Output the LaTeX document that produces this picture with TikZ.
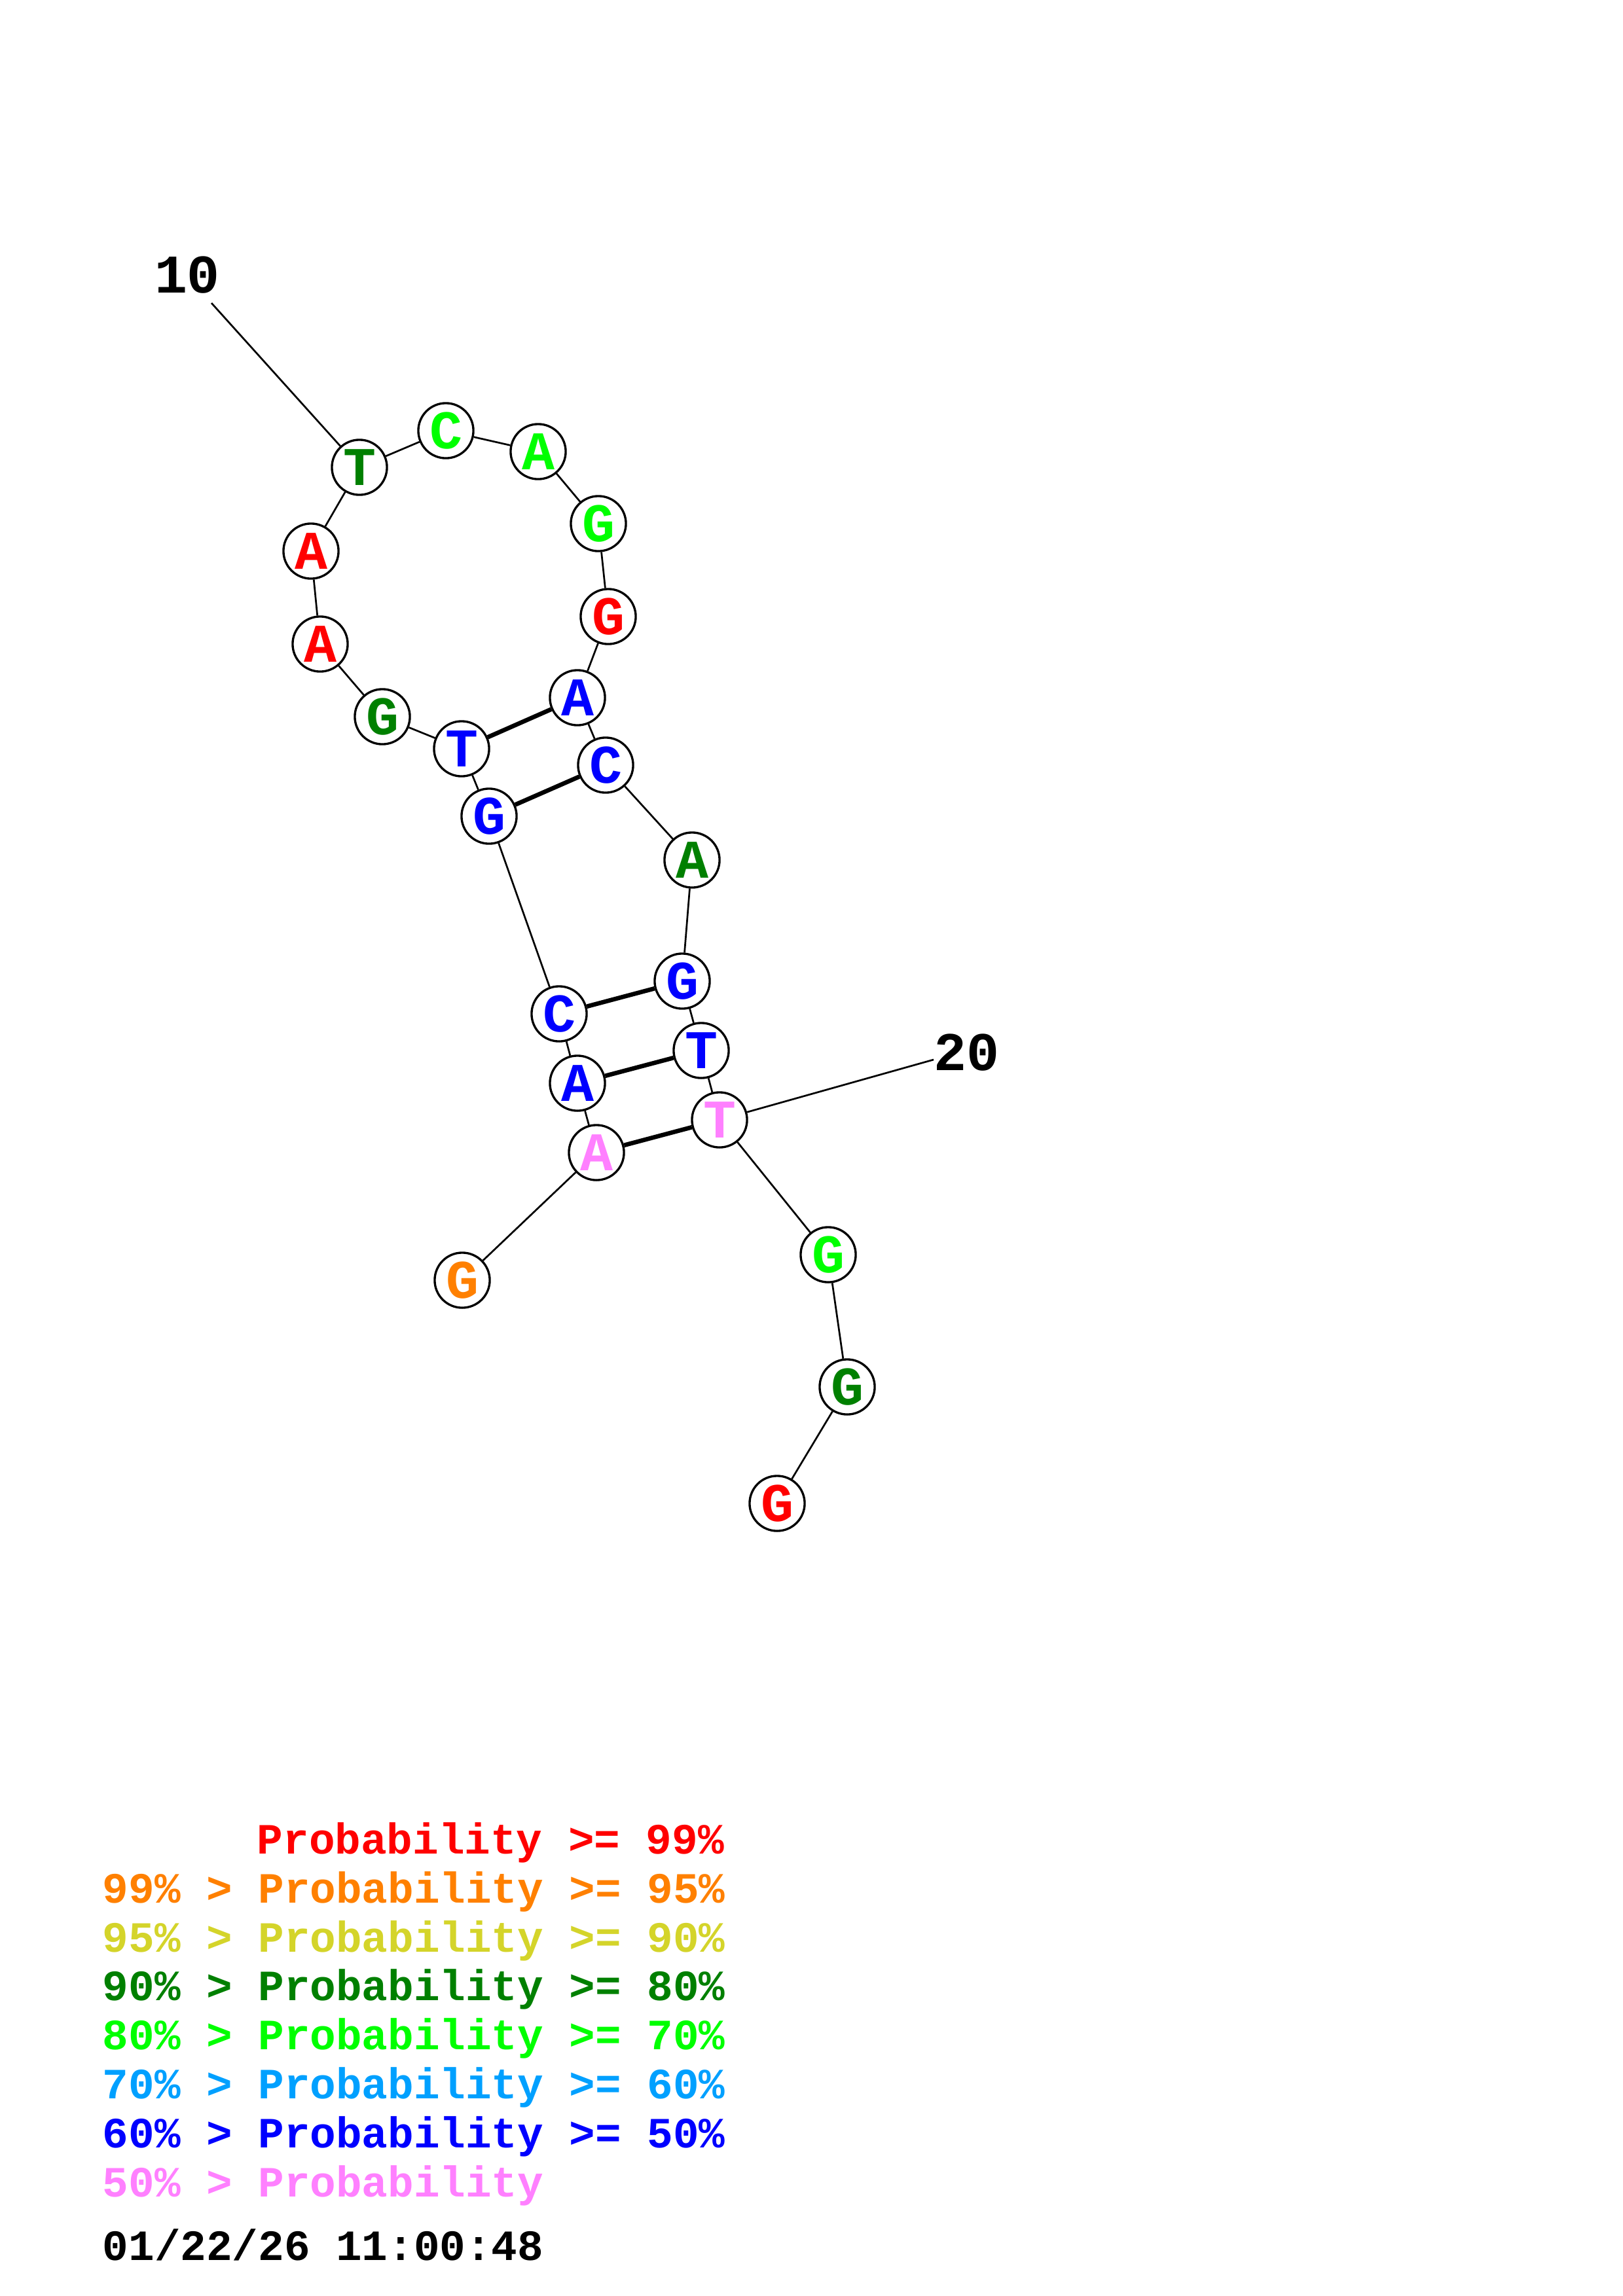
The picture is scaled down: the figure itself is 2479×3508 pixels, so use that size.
\documentclass[tikz,border=0pt]{standalone}
\usepackage{fontspec}
\newfontfamily\courbold{Liberation Mono}
\usepackage{tikz}
\usetikzlibrary{positioning}

\definecolor{pred}{RGB}{255,0,0}
\definecolor{porange}{RGB}{255,128,0}
\definecolor{pyellow}{RGB}{212,212,42}
\definecolor{pdkgreen}{RGB}{0,128,0}
\definecolor{pgreen}{RGB}{0,255,0}
\definecolor{plblue}{RGB}{0,160,255}
\definecolor{pblue}{RGB}{0,0,255}
\definecolor{ppink}{RGB}{255,128,255}

\begin{document}
\begin{tikzpicture}[
  x=0.24013pt, y=-0.24013pt,
  base/.style={circle, draw=black, line width=0.8pt, fill=white, minimum size=20.2pt,
               inner sep=0pt, font=\courbold\bfseries\fontsize{20pt}{20pt}\selectfont},
  bb/.style={draw=black, line width=0.65pt},
  pair/.style={draw=black, line width=1.6pt},
  num/.style={inner sep=0pt, font=\courbold\bfseries\fontsize{20pt}{20pt}\selectfont},
  leg/.style={anchor=base west, inner sep=0pt, font=\courbold\bfseries\fontsize{15.85pt}{18pt}\selectfont}
]
\useasboundingbox (0,0) rectangle (2479,3508);

%% bases 1..23
\node[base, text=porange]  (b1)  at (706, 1956) {G};
\node[base, text=ppink]    (b2)  at (911, 1761) {A};
\node[base, text=pblue]    (b3)  at (882, 1655) {A};
\node[base, text=pblue]    (b4)  at (854, 1549) {C};
\node[base, text=pblue]    (b5)  at (747, 1247) {G};
\node[base, text=pblue]    (b6)  at (705, 1144) {T};
\node[base, text=pdkgreen] (b7)  at (584, 1095) {G};
\node[base, text=pred]     (b8)  at (489, 984) {A};
\node[base, text=pred]     (b9)  at (475, 842) {A};
\node[base, text=pdkgreen] (b10) at (549, 714) {T};
\node[base, text=pgreen]   (b11) at (681, 658) {C};
\node[base, text=pgreen]   (b12) at (822, 690) {A};
\node[base, text=pgreen]   (b13) at (914, 800) {G};
\node[base, text=pred]     (b14) at (929, 942) {G};
\node[base, text=pblue]    (b15) at (882, 1066) {A};
\node[base, text=pblue]    (b16) at (925, 1169) {C};
\node[base, text=pdkgreen] (b17) at (1057, 1314) {A};
\node[base, text=pblue]    (b18) at (1042, 1499) {G};
\node[base, text=pblue]    (b19) at (1071, 1605) {T};
\node[base, text=ppink]    (b20) at (1099, 1711) {T};
\node[base, text=pgreen]   (b21) at (1265, 1917) {G};
\node[base, text=pdkgreen] (b22) at (1294, 2119) {G};
\node[base, text=pred]     (b23) at (1187, 2297) {G};

%% numbering
\node[num] (n10) at (286, 420) {10};
\coordinate (t10) at (323, 463);
\node[num] (n20) at (1476, 1608) {20};
\coordinate (t20) at (1426, 1619);

%% backbone
\draw[bb] (b1) -- (b2);
\draw[bb] (b2) -- (b3);
\draw[bb] (b3) -- (b4);
\draw[bb] (b4) -- (b5);
\draw[bb] (b5) -- (b6);
\draw[bb] (b6) -- (b7);
\draw[bb] (b7) -- (b8);
\draw[bb] (b8) -- (b9);
\draw[bb] (b9) -- (b10);
\draw[bb] (b10) -- (b11);
\draw[bb] (b11) -- (b12);
\draw[bb] (b12) -- (b13);
\draw[bb] (b13) -- (b14);
\draw[bb] (b14) -- (b15);
\draw[bb] (b15) -- (b16);
\draw[bb] (b16) -- (b17);
\draw[bb] (b17) -- (b18);
\draw[bb] (b18) -- (b19);
\draw[bb] (b19) -- (b20);
\draw[bb] (b20) -- (b21);
\draw[bb] (b21) -- (b22);
\draw[bb] (b22) -- (b23);
\draw[bb] (b10) -- (t10);
\draw[bb] (b20) -- (t20);

%% base pairs
\draw[pair] (b2) -- (b20);
\draw[pair] (b3) -- (b19);
\draw[pair] (b4) -- (b18);
\draw[pair] (b5) -- (b16);
\draw[pair] (b6) -- (b15);

%% legend
\node[leg, text=pred]     (l1) at (392, 2832) {Probability >= 99\%};
\node[leg, text=porange]  (l2) at (156, 2907) {99\% > Probability >= 95\%};
\node[leg, text=pyellow]  (l3) at (156, 2982) {95\% > Probability >= 90\%};
\node[leg, text=pdkgreen] (l4) at (156, 3056) {90\% > Probability >= 80\%};
\node[leg, text=pgreen]   (l5) at (156, 3131) {80\% > Probability >= 70\%};
\node[leg, text=plblue]   (l6) at (156, 3206) {70\% > Probability >= 60\%};
\node[leg, text=pblue]    (l7) at (156, 3281) {60\% > Probability >= 50\%};
\node[leg, text=ppink]    (l8) at (156, 3356) {50\% > Probability};
\node[leg, text=black]    (dt) at (156, 3453) {01/22/26 11:00:48};
\end{tikzpicture}
\end{document}
